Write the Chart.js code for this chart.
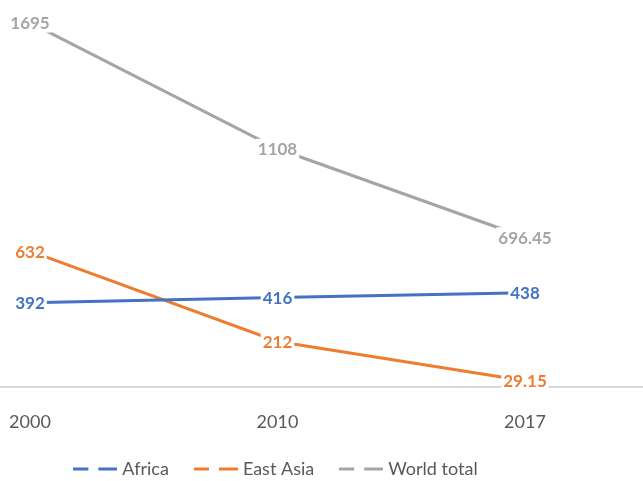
<!DOCTYPE html>
<html lang="en">
<head>
  <meta charset="UTF-8">
  <title>Africa, East Asia, World total</title>
  <script src="https://cdn.jsdelivr.net/npm/chart.js"></script>
  <style>
    body { margin: 0; background: #fff; }
  </style>
</head>
<body>
<canvas id="chart" width="643" height="481"></canvas>

<script>
  // values
  const years = ["2000", "2010", "2017"];
  const africa = [392, 416, 438];
  const eastAsia = [632, 212, 29.15];
  const worldTotal = [1695, 1108, 696.45];

  const colors = {
    africa: "#4472C4",
    eastAsia: "#ED7D31",
    world: "#A5A5A5"
  };

  // dashed legend sample, like the Excel one
  function legendSymbol(color) {
    const c = document.createElement("canvas");
    c.width = 44;
    c.height = 4;
    const g = c.getContext("2d");
    g.strokeStyle = color;
    g.lineWidth = 3;
    g.beginPath();
    g.moveTo(0, 2); g.lineTo(15, 2);
    g.moveTo(25, 2); g.lineTo(44, 2);
    g.stroke();
    return c;
  }

  // light axis line across the whole width
  const axisLine = {
    id: "axisLine",
    beforeDatasetsDraw(chart) {
      const ctx = chart.ctx;
      const y = chart.scales.y.getPixelForValue(0);
      ctx.save();
      ctx.strokeStyle = "#d9d9d9";
      ctx.lineWidth = 2;
      ctx.beginPath();
      ctx.moveTo(0, y);
      ctx.lineTo(chart.width, y);
      ctx.stroke();
      ctx.restore();
    }
  };

  // value labels centred on each point, white box behind
  const pointLabels = {
    id: "pointLabels",
    afterDatasetsDraw(chart) {
      const ctx = chart.ctx;
      ctx.save();
      ctx.font = "bold 17px Lato";
      ctx.textAlign = "center";
      ctx.textBaseline = "middle";
      chart.data.datasets.forEach((ds, i) => {
        const meta = chart.getDatasetMeta(i);
        meta.data.forEach((pt, j) => {
          const txt = String(ds.data[j]);
          const w = ctx.measureText(txt).width;
          ctx.fillStyle = "#fff";
          ctx.fillRect(pt.x - w / 2 - 2, pt.y - 10, w + 4, 20);
          ctx.fillStyle = ds.borderColor;
          ctx.fillText(txt, pt.x, pt.y + 1);
        });
      });
      ctx.restore();
    }
  };

  Chart.defaults.font.family = "Lato";

  new Chart(document.getElementById("chart"), {
    type: "line",
    data: {
      labels: years,
      datasets: [
        { label: "Africa", data: africa, borderColor: colors.africa, backgroundColor: colors.africa, pointStyle: legendSymbol(colors.africa) },
        { label: "East Asia", data: eastAsia, borderColor: colors.eastAsia, backgroundColor: colors.eastAsia, pointStyle: legendSymbol(colors.eastAsia) },
        { label: "World total", data: worldTotal, borderColor: colors.world, backgroundColor: colors.world, pointStyle: legendSymbol(colors.world) }
      ]
    },
    options: {
      responsive: false,
      animation: false,
      elements: {
        line: { borderWidth: 3, tension: 0 },
        point: { radius: 0, hoverRadius: 0 }
      },
      layout: {
        padding: { left: 30, right: 118, top: 0, bottom: -7 }
      },
      plugins: {
        tooltip: { enabled: false },
        legend: {
          position: "bottom",
          labels: {
            usePointStyle: true,
            pointStyleWidth: 36,
            padding: 29,
            color: "#595959",
            font: { size: 18 }
          }
        }
      },
      scales: {
        x: {
          offset: false,
          // grid hidden; tickLength only used to push the labels down
          grid: { display: false, drawTicks: true, tickLength: 26 },
          border: { display: false },
          ticks: { color: "#595959", font: { size: 18 }, padding: -1.8, maxRotation: 0, autoSkip: false }
        },
        y: {
          display: false,
          min: 0,
          max: 1800
        }
      }
    },
    plugins: [axisLine, pointLabels]
  });
</script>
</body>
</html>
